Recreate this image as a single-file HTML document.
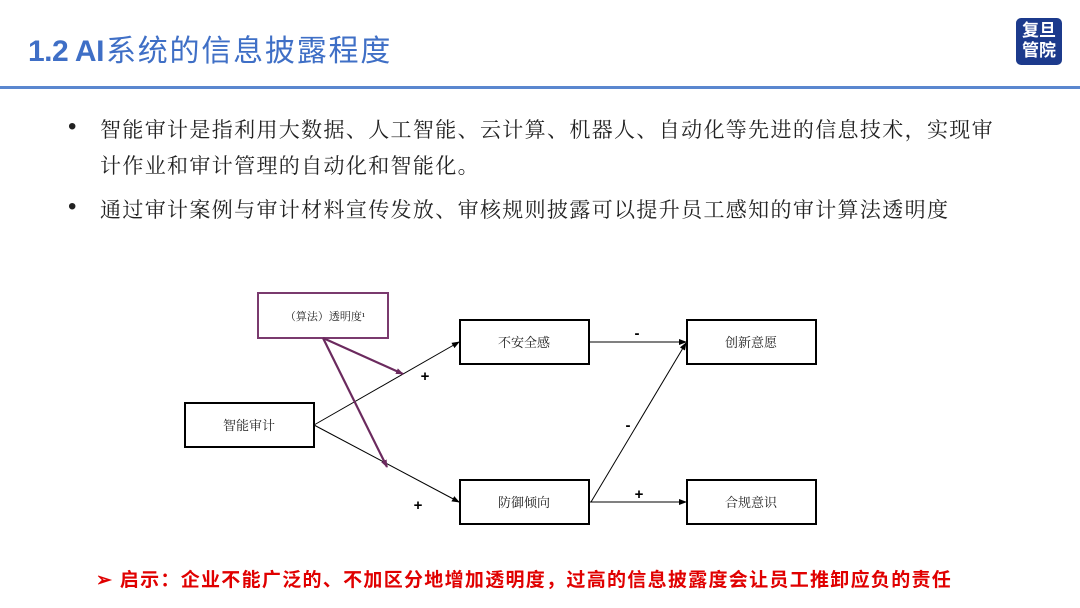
<!DOCTYPE html>
<html><head><meta charset="utf-8"><style>
body{margin:0;width:1080px;height:608px;background:#fff;position:relative;overflow:hidden;font-family:"Liberation Sans","Noto Sans CJK SC",sans-serif}
.t{position:absolute;white-space:nowrap}
.title{left:28px;top:26px;font-size:30px;color:#3f6fc6;font-weight:bold;letter-spacing:-0.5px}
.title span{font-weight:normal;letter-spacing:1.8px;margin-left:2px}
.logo{position:absolute;left:1016px;top:18px;width:46px;height:47px;background:#1c3a8c;border-radius:5px;color:#fff;font-size:17px;line-height:20px;text-align:center;font-weight:bold;padding-top:3px;box-sizing:border-box}
.bar{position:absolute;left:0;top:86px;width:1080px;height:3px;background:#5a87cf}
.b{font-family:"Liberation Serif","Noto Serif CJK SC",serif;font-size:21px;letter-spacing:1.35px;color:#222}
.dot{font-family:"Liberation Sans",sans-serif;font-size:24px;color:#222}
.red{left:96px;top:565px;font-size:19px;font-weight:bold;color:#e00000;letter-spacing:1.3px}
</style></head><body>
<div class="t title">1.2 AI<span>系统的信息披露程度</span></div>
<div class="logo">复旦<br>管院</div>
<div class="bar"></div>
<div class="t dot" style="left:68px;top:113px">•</div>
<div class="t b" style="left:100px;top:114px">智能审计是指利用大数据、人工智能、云计算、机器人、自动化等先进的信息技术，实现审</div>
<div class="t b" style="left:100px;top:150px">计作业和审计管理的自动化和智能化。</div>
<div class="t dot" style="left:68px;top:193px">•</div>
<div class="t b" style="left:100px;top:194px">通过审计案例与审计材料宣传发放、审核规则披露可以提升员工感知的审计算法透明度</div>
<svg width="1080" height="608" style="position:absolute;left:0;top:0" font-family="Liberation Serif,Noto Serif CJK SC,serif">
<defs>
<marker id="a" markerWidth="8" markerHeight="8" refX="7" refY="4" orient="auto" markerUnits="userSpaceOnUse"><path d="M0,1 L8,4 L0,7 Z" fill="#000"/></marker>
<marker id="p" markerWidth="8" markerHeight="8" refX="7" refY="4" orient="auto" markerUnits="userSpaceOnUse"><path d="M0,1 L8,4 L0,7 Z" fill="#6b2a5e"/></marker>
</defs>
<g fill="#fff" stroke="#000" stroke-width="2">
<rect x="185" y="403" width="129" height="44"/>
<rect x="460" y="320" width="129" height="44"/>
<rect x="460" y="480" width="129" height="44"/>
<rect x="687" y="320" width="129" height="44"/>
<rect x="687" y="480" width="129" height="44"/>
</g>
<rect x="258" y="293" width="130" height="45" fill="#fff" stroke="#7a3a6e" stroke-width="2"/>
<g stroke="#000" stroke-width="1" fill="none">
<line x1="314" y1="425" x2="459" y2="342" marker-end="url(#a)"/>
<line x1="314" y1="425" x2="459" y2="502" marker-end="url(#a)"/>
<line x1="589" y1="342" x2="686" y2="342" marker-end="url(#a)"/>
<line x1="591" y1="502" x2="686" y2="343" marker-end="url(#a)"/>
<line x1="589" y1="502" x2="686" y2="502" marker-end="url(#a)"/>
</g>
<g stroke="#6b2a5e" stroke-width="2.2" fill="none">
<line x1="323" y1="338" x2="403" y2="374" marker-end="url(#p)"/>
<line x1="323" y1="338" x2="387" y2="467" marker-end="url(#p)"/>
</g>
<g font-size="13" text-anchor="middle" fill="#222">
<text x="249" y="430">智能审计</text>
<text x="524" y="347">不安全感</text>
<text x="524" y="507">防御倾向</text>
<text x="751" y="347">创新意愿</text>
<text x="751" y="507">合规意识</text>
<text x="325" y="320" font-size="11">（算法）透明度¹</text>
</g>
<g font-family="Liberation Sans,sans-serif" font-size="15" font-weight="bold" text-anchor="middle" fill="#000">
<text x="425" y="381">+</text>
<text x="418" y="510">+</text>
<text x="637" y="338">-</text>
<text x="628" y="430">-</text>
<text x="639" y="499">+</text>
</g>
</svg>
<div class="t red">➢ 启示：企业不能广泛的、不加区分地增加透明度，过高的信息披露度会让员工推卸应负的责任</div>
</body></html>
